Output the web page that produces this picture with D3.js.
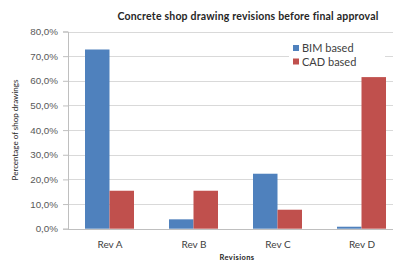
<!DOCTYPE html>
<html>
<head>
<meta charset="utf-8">
<script src="https://cdn.jsdelivr.net/npm/d3@7"></script>
<style>
  html, body { margin: 0; padding: 0; background: #fff; }
  svg { display: block; font-family: Lato, "Liberation Sans", sans-serif; }
</style>
</head>
<body>
<svg id="chart" width="393" height="262"></svg>
<script>
// chart data
const categories = ['Rev A', 'Rev B', 'Rev C', 'Rev D'];
const seriesNames = ['BIM based', 'CAD based'];
const bimValues = [72.7, 3.8, 22.3, 0.8];
const cadValues = [15.4, 15.4, 7.7, 61.5];
const yTicks = [0, 10, 20, 30, 40, 50, 60, 70, 80];
const colors = ['#4f81bd', '#c0504d'];

const svg = d3.select('#chart');

// plot area (right side runs past the picture edge, like the source crop)
const plotLeft = 68, plotRight = 404, plotTop = 31.5, plotBottom = 228.7;

const x = d3.scaleBand().domain(categories).range([plotLeft, plotRight]).padding(0);
const xInner = d3.scaleBand().domain(seriesNames)
  .range([17, x.bandwidth() - 18]).padding(0);
const y = d3.scaleLinear().domain([0, 80]).range([plotBottom, plotTop]);

// gridlines
svg.append('g')
  .selectAll('line')
  .data(yTicks.filter(d => d > 0))
  .enter()
  .append('line')
  .attr('x1', plotLeft).attr('x2', plotRight)
  .attr('y1', d => Math.round(y(d)) + 0.5)
  .attr('y2', d => Math.round(y(d)) + 0.5)
  .attr('stroke', '#d9d9d9');

// y axis
const yAxis = svg.append('g')
  .attr('transform', `translate(${plotLeft},0)`)
  .call(d3.axisLeft(y).tickValues(yTicks).tickSize(5).tickPadding(5)
    .tickFormat(d => d3.format('.1f')(d).replace('.', ',') + '%'));
yAxis.select('.domain').attr('stroke', '#bfbfbf');
yAxis.selectAll('.tick line').attr('stroke', '#bfbfbf');
yAxis.selectAll('text')
  .attr('fill', '#595959')
  .style('font-size', '9.8px');

// bars
const rows = categories.map((c, i) => ({ cat: c, values: [bimValues[i], cadValues[i]] }));
const groups = svg.append('g')
  .selectAll('g')
  .data(rows)
  .enter()
  .append('g')
  .attr('transform', d => `translate(${x(d.cat)},0)`);

groups.selectAll('rect')
  .data(d => d.values.map((v, i) => ({ name: seriesNames[i], value: v, i })))
  .enter()
  .append('rect')
  .attr('x', d => xInner(d.name))
  .attr('width', xInner.bandwidth())
  .attr('y', d => y(d.value))
  .attr('height', d => y(0) - y(d.value))
  .attr('fill', d => colors[d.i]);

// x axis line
svg.append('line')
  .attr('x1', plotLeft).attr('x2', plotRight)
  .attr('y1', Math.round(plotBottom) + 0.5).attr('y2', Math.round(plotBottom) + 0.5)
  .attr('stroke', '#bfbfbf');

// category labels
svg.append('g')
  .selectAll('text')
  .data(categories)
  .enter()
  .append('text')
  .attr('x', d => x(d) + x.bandwidth() / 2)
  .attr('y', 247.5)
  .attr('text-anchor', 'middle')
  .attr('fill', '#404040')
  .style('font-size', '10px')
  .text(d => d);

// axis titles
svg.append('text')
  .attr('x', 237).attr('y', 259.5)
  .attr('text-anchor', 'middle')
  .attr('fill', '#262626')
  .style('font-size', '7.5px').style('font-weight', 'bold')
  .style('letter-spacing', '0.4px')
  .text('Revisions');

svg.append('text')
  .attr('transform', 'translate(17.5,130) rotate(-90)')
  .attr('text-anchor', 'middle')
  .attr('fill', '#262626')
  .style('font-size', '8px')
  .text('Percentage of shop drawings');

// title
svg.append('text')
  .attr('x', 248).attr('y', 20)
  .attr('text-anchor', 'middle')
  .attr('fill', '#262626')
  .style('font-size', '10.5px').style('font-weight', 'bold')
  .style('letter-spacing', '0.2px')
  .text('Concrete shop drawing revisions before final approval');

// legend
const legend = svg.append('g');
legend.append('rect')
  .attr('x', 289).attr('y', 39).attr('width', 96).attr('height', 29)
  .attr('fill', '#fff');
seriesNames.forEach((name, i) => {
  const ly = 48 + i * 13.5;
  legend.append('rect')
    .attr('x', 293).attr('y', ly - 3).attr('width', 6).attr('height', 6)
    .attr('fill', colors[i]);
  legend.append('text')
    .attr('x', 302).attr('y', ly + 4)
    .attr('fill', '#404040')
    .style('font-size', '11px')
    .text(name);
});
</script>
</body>
</html>
